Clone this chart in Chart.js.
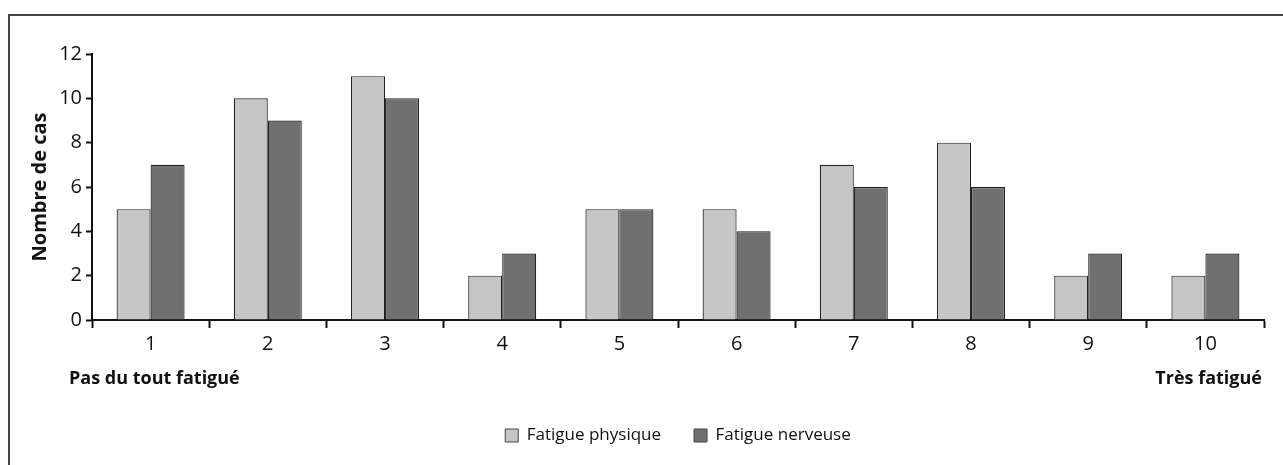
<!DOCTYPE html>
<html><head><meta charset="utf-8">
<script src="https://cdn.jsdelivr.net/npm/chart.js@4/dist/chart.umd.min.js"></script>
<style>html,body{margin:0;padding:0;background:#fff;}#wrap{position:relative;width:1283px;height:465px;}</style>
</head><body><div id="wrap"><canvas id="c" width="1283" height="465"></canvas></div>
<script>
const categories = ["1","2","3","4","5","6","7","8","9","10"];
const physique = [5,10,11,2,5,5,7,8,2,2];
const nerveuse = [7,9,10,3,5,4,6,6,3,3];
const seriesNames = ["Fatigue physique","Fatigue nerveuse"];
const leftEndLabel = "Pas du tout fatigué";
const rightEndLabel = "Très fatigué";
const yTitle = "Nombre de cas";
const FONT = "'Open Sans', sans-serif";

const framePlugin = {
  id:'frame',
  afterLayout(chart){
    const lg = chart.legend;
    if (lg) { lg.left += 46; lg.right += 46; lg.top -= 11; lg.bottom -= 11; }
  },
  beforeDraw(chart){
    const ctx = chart.ctx;
    ctx.save();
    ctx.fillStyle='#fff';ctx.fillRect(0,0,chart.width,chart.height);
    ctx.strokeStyle='#444';ctx.lineWidth=2;
    ctx.beginPath();ctx.moveTo(9,chart.height);ctx.lineTo(9,15);ctx.lineTo(chart.width,15);ctx.stroke();
    ctx.restore();
  },
  afterDraw(chart){
    const ctx = chart.ctx, a = chart.chartArea;
    ctx.save();
    ctx.fillStyle='#111';
    ctx.font="bold 18px "+FONT;
    ctx.textBaseline='middle';
    ctx.textAlign='left';
    ctx.fillText(leftEndLabel, a.left-23, a.bottom+59);
    ctx.textAlign='right';
    ctx.fillText(rightEndLabel, a.right-2, a.bottom+59);
    ctx.restore();
  }
};

new Chart(document.getElementById('c'), {
  type:'bar',
  data:{labels:categories, datasets:[
    {label:seriesNames[0], data:physique, backgroundColor:'#c6c6c6', borderColor:'#222', borderWidth:1.2},
    {label:seriesNames[1], data:nerveuse, backgroundColor:'#707070', borderColor:'#222', borderWidth:1.2}
  ]},
  options:{
    responsive:false, animation:false,
    layout:{padding:{left:0,right:19,top:54,bottom:0}},
    datasets:{bar:{categoryPercentage:0.58,barPercentage:1.0}},
    plugins:{
      tooltip:{enabled:false},
      legend:{position:'bottom',labels:{boxWidth:13,boxHeight:13,padding:33,color:'#111',font:{family:FONT,size:17},
        generateLabels(chart){return chart.data.datasets.map((d,i)=>({text:d.label,fillStyle:d.backgroundColor,strokeStyle:'#444',lineWidth:1,datasetIndex:i,fontColor:'#111'}));}}}
    },
    scales:{
      x:{
        grid:{display:true,drawOnChartArea:false,offset:true,tickLength:8,tickWidth:2,tickColor:'#111'},
        border:{display:true,color:'#111',width:2},
        ticks:{color:'#111',font:{family:FONT,size:20},padding:4,maxRotation:0},
        afterFit(s){s.height=85;}
      },
      y:{
        min:0,max:12,
        grid:{display:true,drawOnChartArea:false,tickLength:6,tickWidth:2,tickColor:'#111'},
        border:{display:true,color:'#111',width:2},
        ticks:{stepSize:2,color:'#111',font:{family:FONT,size:20},padding:4},
        title:{display:true,text:yTitle,color:'#111',font:{family:FONT,size:20,weight:'bold'},padding:{top:28,bottom:0}},
        afterFit(s){s.width=92;}
      }
    }
  },
  plugins:[framePlugin]
});
</script></body></html>
